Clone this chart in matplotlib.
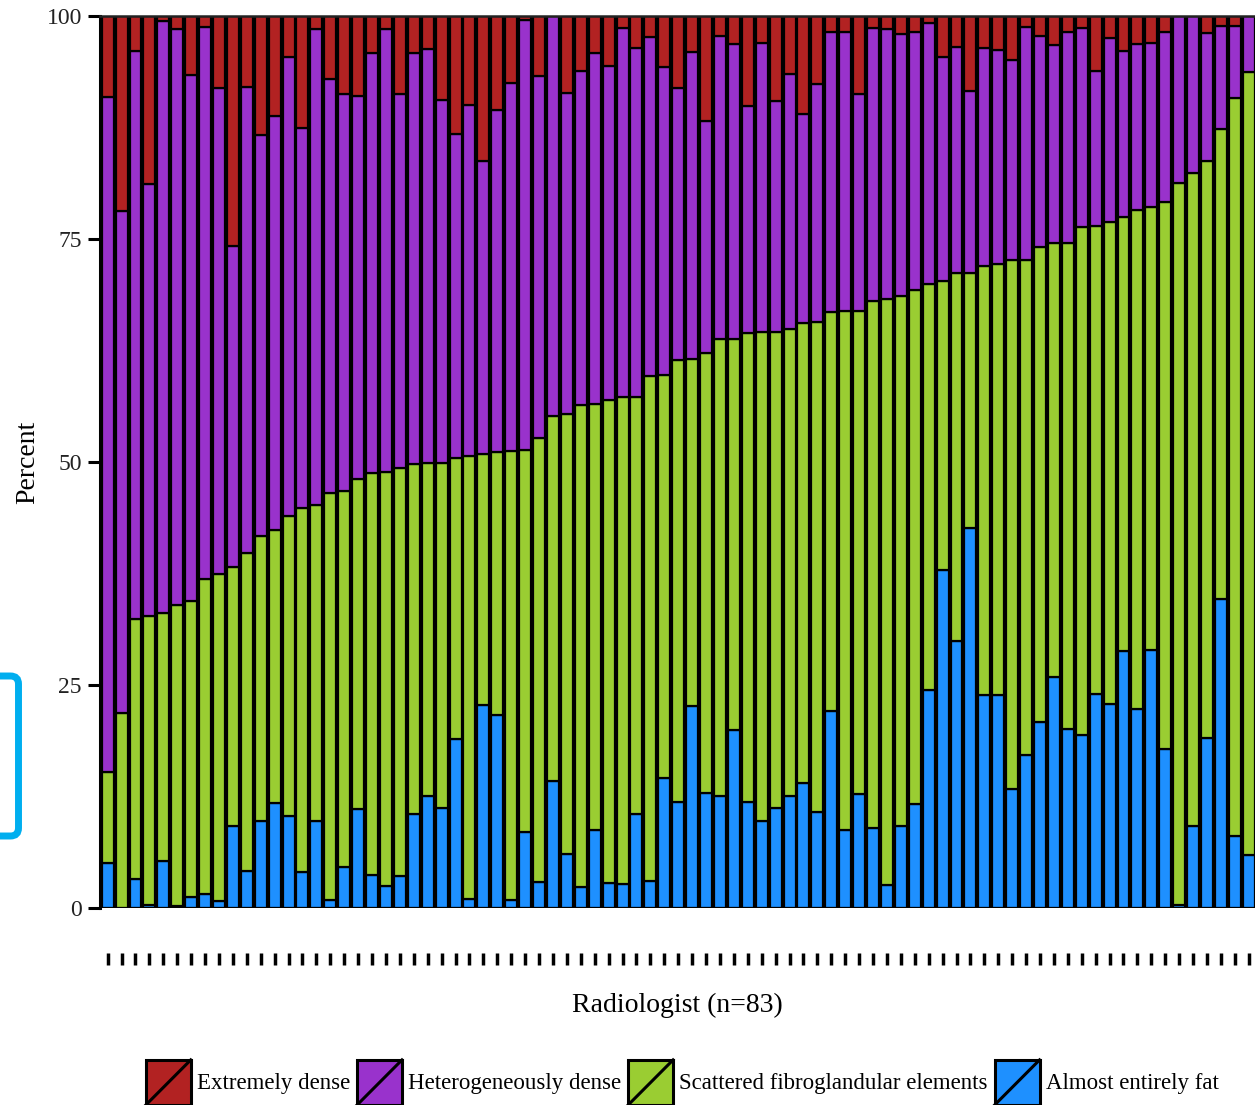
import numpy as np
import matplotlib
matplotlib.use('Agg')
import matplotlib.pyplot as plt
from matplotlib.patches import Rectangle, Patch, FancyBboxPatch
from matplotlib.lines import Line2D
from matplotlib.legend_handler import HandlerBase
from matplotlib.transforms import IdentityTransform

plt.rcParams['font.family'] = ['Liberation Serif', 'DejaVu Serif']

# percent of readings per density category, one value per radiologist
fatty = [5.0, 0.0, 3.2, 0.3, 5.3, 0.2, 1.2, 1.6, 0.8, 9.2,
         4.2, 9.8, 11.8, 10.3, 4.0, 9.8, 0.9, 4.6, 11.1, 3.7,
         2.5, 3.6, 10.5, 12.6, 11.2, 19.0, 1.0, 22.8, 21.6, 0.9,
         8.5, 2.9, 14.2, 6.0, 2.4, 8.7, 2.8, 2.7, 10.5, 3.0,
         14.6, 11.9, 22.7, 12.9, 12.6, 19.9, 11.9, 9.8, 11.2, 12.6,
         14.0, 10.8, 22.1, 8.8, 12.8, 9.0, 2.6, 9.2, 11.7, 24.4,
         37.9, 29.9, 42.6, 23.9, 23.9, 13.3, 17.2, 20.9, 25.9, 20.1,
         19.4, 24.0, 22.9, 28.8, 22.3, 28.9, 17.8, 0.3, 9.2, 19.1,
         34.6, 8.1, 5.9]
scattered = [10.3, 21.9, 29.2, 32.4, 27.8, 33.8, 33.2, 35.3, 36.6, 29.0,
             35.6, 31.9, 30.6, 33.7, 40.8, 35.4, 45.6, 42.1, 37.0, 45.1,
             46.4, 45.7, 39.3, 37.3, 38.7, 31.5, 49.7, 28.1, 29.5, 50.3,
             42.8, 49.8, 41.0, 49.4, 54.0, 47.8, 54.2, 54.6, 46.8, 56.6,
             45.2, 49.5, 38.8, 49.3, 51.2, 43.9, 52.6, 54.8, 53.4, 52.3,
             51.6, 54.9, 44.7, 58.1, 54.1, 59.1, 65.7, 59.4, 57.6, 45.6,
             32.4, 41.3, 28.6, 48.1, 48.3, 59.3, 55.5, 53.2, 48.6, 54.4,
             57.0, 52.5, 54.0, 48.7, 56.0, 49.7, 61.3, 81.0, 73.2, 64.7,
             52.7, 82.7, 87.8]
hetero = [75.6, 56.2, 63.7, 48.5, 66.3, 64.5, 59.0, 61.9, 54.5, 36.0,
          52.2, 45.0, 46.4, 51.4, 42.7, 53.3, 46.4, 44.6, 42.9, 47.0,
          49.6, 42.0, 46.0, 46.4, 40.7, 36.3, 39.3, 32.8, 38.4, 41.3,
          48.3, 40.6, 44.8, 36.0, 37.4, 39.3, 37.4, 41.3, 39.1, 38.1,
          34.5, 30.5, 34.5, 26.0, 34.0, 33.1, 25.4, 32.4, 25.9, 28.6,
          23.4, 26.7, 31.4, 31.3, 24.4, 30.5, 30.2, 29.4, 28.9, 29.2,
          25.1, 25.3, 20.4, 24.4, 24.0, 22.5, 26.1, 23.7, 22.3, 23.7,
          22.3, 17.3, 20.6, 18.6, 18.6, 18.4, 19.1, 18.7, 17.6, 14.3,
          11.6, 8.1, 6.3]
extreme = [9.1, 21.9, 3.9, 18.8, 0.6, 1.5, 6.6, 1.2, 8.1, 25.8,
           8.0, 13.3, 11.2, 4.6, 12.5, 1.5, 7.1, 8.7, 9.0, 4.2,
           1.5, 8.7, 4.2, 3.7, 9.4, 13.2, 10.0, 16.3, 10.5, 7.5,
           0.4, 6.7, 0.0, 8.6, 6.2, 4.2, 5.6, 1.4, 3.6, 2.3,
           5.7, 8.1, 4.0, 11.8, 2.2, 3.1, 10.1, 3.0, 9.5, 6.5,
           11.0, 7.6, 1.8, 1.8, 8.7, 1.4, 1.5, 2.0, 1.8, 0.8,
           4.6, 3.5, 8.4, 3.6, 3.8, 4.9, 1.2, 2.2, 3.2, 1.8,
           1.3, 6.2, 2.5, 3.9, 3.1, 3.0, 1.8, 0.0, 0.0, 1.9,
           1.1, 1.1, 0.0]

labels = ['Extremely dense', 'Heterogeneously dense',
          'Scattered fibroglandular elements', 'Almost entirely fat']
colors = ['#B22222', '#9932CC', '#9ACD32', '#1E90FF']


class DiagonalBox(HandlerBase):
    # square swatch crossed by a diagonal stroke
    def create_artists(self, legend, orig_handle, xdescent, ydescent,
                       width, height, fontsize, trans):
        x0, y0 = -xdescent, -ydescent
        box = Rectangle((x0, y0), width, height, facecolor=orig_handle.get_facecolor(),
                        edgecolor='black', lw=2.2, transform=trans)
        line = Line2D([x0, x0 + width], [y0, y0 + height], color='black', lw=2.2,
                      transform=trans)
        return [box, line]


fig = plt.figure(figsize=(12.55, 11.05), dpi=100)
ax = fig.add_axes([100 / 1255, 197 / 1105, 1155 / 1255, 892 / 1105])

x = np.arange(len(fatty))
stack = [fatty, scattered, hetero, extreme]
bottom = np.zeros(len(x))
for vals, c in zip(stack, colors[::-1]):
    ax.bar(x, vals, bottom=bottom, width=0.86, color=c, edgecolor='black',
           linewidth=1.6)
    bottom += np.array(vals)

ax.axhline(0, color='black', lw=2.2, zorder=5)
ax.set_xlim(-0.55, 82.45)
ax.set_ylim(0, 100)
ax.set_yticks([0, 25, 50, 75, 100])
ax.set_xticks(x)
ax.set_xticklabels([])

ax.spines['right'].set_visible(False)
ax.spines['top'].set_color('#222222')
ax.spines['top'].set_linewidth(1.8)
ax.spines['left'].set_linewidth(2.2)
ax.spines['bottom'].set_position(('outward', 32.5))
ax.spines['bottom'].set_visible(False)
ax.tick_params(axis='y', length=9, width=2.2, pad=4, labelsize=17, labelcolor='#222222')
ax.tick_params(axis='x', length=8.5, width=2.5)

ax.set_ylabel('Percent', fontsize=20)
ax.yaxis.set_label_coords(-0.052, 0.5)
ax.set_xlabel('Radiologist (n=83)', fontsize=20)
ax.xaxis.set_label_coords(0.5, -0.095)

handles = [Patch(facecolor=c) for c in colors]
fig.legend(handles, labels, loc='center', bbox_to_anchor=(0.5436, 0.0204), ncol=4,
           frameon=False, fontsize=16.5, handlelength=1.96, handleheight=2.65,
           handletextpad=0.27, columnspacing=0.3, borderpad=0, borderaxespad=0,
           handler_map={Patch: DiagonalBox()})

# rounded marker box at the left margin
fig.add_artist(FancyBboxPatch((-40, 1105 - 836), 58.5, 160,
                              boxstyle='round,pad=0,rounding_size=8',
                              transform=IdentityTransform(), lw=5,
                              ec='#00AEEF', fc='none'))

fig.savefig('out.png', dpi=100)
